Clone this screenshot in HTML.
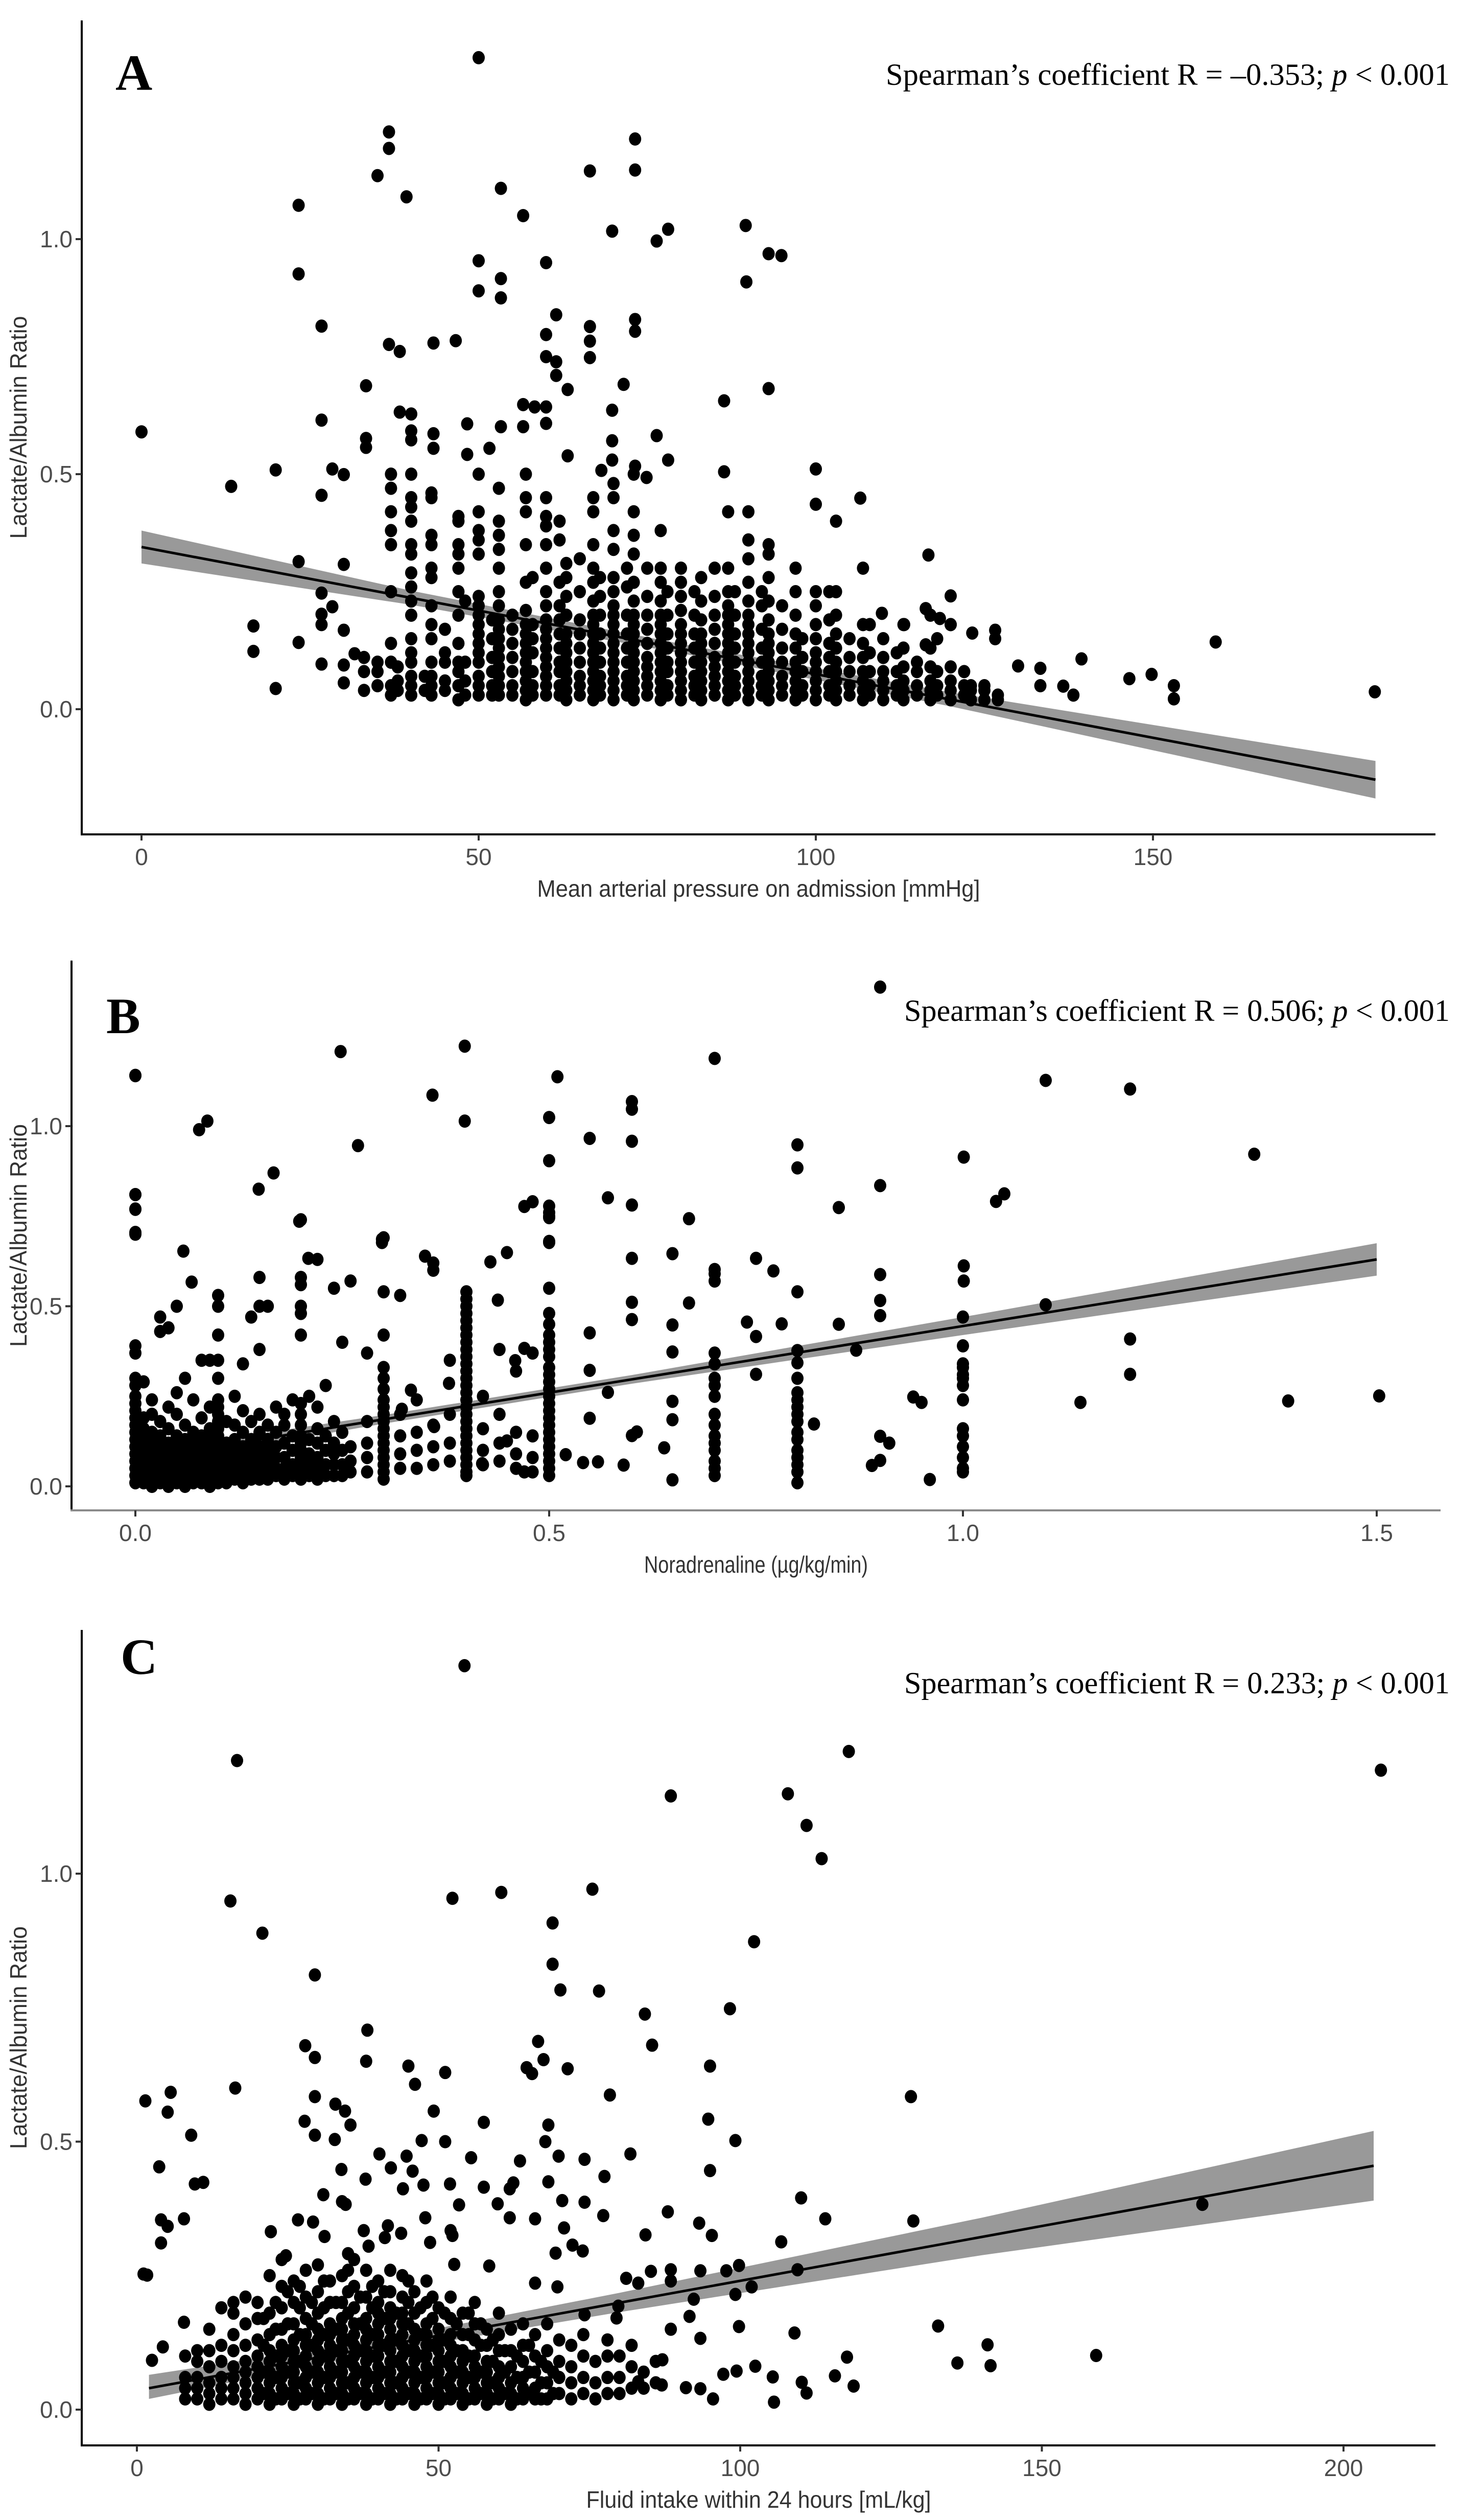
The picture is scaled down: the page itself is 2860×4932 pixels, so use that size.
<!DOCTYPE html>
<html><head><meta charset="utf-8"><title>Lactate/Albumin Ratio correlations</title>
<style>
html,body{margin:0;padding:0;background:#fff;}
svg{display:block;}
.tick{font-family:"Liberation Sans",sans-serif;font-size:46px;fill:#4d4d4d;}
.atitle{font-family:"Liberation Sans",sans-serif;font-size:46px;fill:#333;}
.spear{font-family:"Liberation Serif",serif;font-size:60px;fill:#000;}
.plab{font-family:"Liberation Serif",serif;font-size:100px;font-weight:bold;fill:#000;}
</style></head>
<body>
<svg id="fig" width="2860" height="4932" viewBox="0 0 2860 4932" xmlns="http://www.w3.org/2000/svg"></svg>
<script>
// ===== Panel A data: MAP vs LAR =====
const xA = [50,36.7,36.7,35,39.3,23.3,23.3,26.7,73.2,73.2,66.5,53.3,56.6,69.8,78.1,76.4,89.6,93,94.9,89.7,50,50,53.3,53.3,60,61.5,73.2,73.2,66.5,66.5,66.5,60,60,61.5,61.5,63.2,36.7,38.3,43.3,46.6,33.3,71.5,93,86.4,0,13.3,19.9,26.7,26.7,28.3,30,33.3,33.3,38.3,40,40,40,43.3,43.3,48.3,48.3,51.6,53.3,56.6,56.6,58.3,60,60,63.2,68.2,69.8,69.8,69.8,76.4,78.1,73.2,74.9,86.4,100,100,106.6,116.7,120,130,133.3,133.3,136.7,138.2,139.4,146.5,149.8,153.1,153.1,159.3,182.9,126.6,126.6,123.2,120,118.4,116.3,113.1,116.3,109.8,19.9,16.6,16.6,23.3,23.3,26.7,26.7,26.7,26.7,28.3,30,30,30,30,31.6];
const yA = [1.386,1.228,1.193,1.135,1.09,1.072,0.926,0.815,1.213,1.147,1.145,1.108,1.05,1.017,1.021,0.996,1.029,0.969,0.965,0.909,0.954,0.89,0.916,0.875,0.95,0.839,0.829,0.804,0.814,0.783,0.748,0.797,0.75,0.739,0.71,0.68,0.776,0.761,0.779,0.784,0.688,0.691,0.682,0.656,0.59,0.474,0.509,0.615,0.455,0.511,0.499,0.576,0.557,0.632,0.628,0.592,0.573,0.586,0.555,0.607,0.542,0.555,0.601,0.648,0.601,0.643,0.643,0.608,0.539,0.508,0.636,0.571,0.53,0.582,0.53,0.517,0.493,0.505,0.511,0.436,0.449,0.328,0.241,0.092,0.087,0.05,0.049,0.03,0.107,0.065,0.074,0.05,0.022,0.143,0.037,0.168,0.15,0.162,0.18,0.193,0.214,0.18,0.137,0.204,0.044,0.177,0.123,0.142,0.314,0.247,0.202,0.18,0.096,0.218,0.308,0.168,0.094,0.056,0.118];
const colXA = [33,35,37,38,40,42,43,45,47,48,50,52,53,55,57,58,60,62,63,65,67,68,70,72,73,75,77,78,80,82,83,85,87,88,90,92,93,95,97,98,100,102,103,105,107,108,110,112,113,115,117,118,120,122,123,125,127];
const colYA = [
[0.04,0.08,0.11],[0.05,0.08,0.1],[0.03,0.05,0.1,0.14,0.25,0.35,0.38,0.42,0.47,0.5],[0.04,0.06,0.09],[0.03,0.05,0.07,0.1,0.12,0.15,0.2,0.23,0.26,0.29,0.33,0.35,0.4,0.43,0.45,0.5],[0.04,0.07],[0.03,0.05,0.07,0.1,0.15,0.18,0.22,0.28,0.3,0.35,0.37,0.45,0.46],[0.04,0.06,0.1,0.12,0.17],[0.02,0.05,0.08,0.1,0.14,0.2,0.25,0.3,0.33,0.35,0.4,0.41],[0.03,0.06,0.1,0.23],
[0.03,0.05,0.07,0.1,0.12,0.14,0.16,0.18,0.2,0.22,0.24,0.33,0.36,0.38,0.42,0.5],[0.03,0.05,0.08,0.11,0.15,0.19],[0.03,0.05,0.07,0.09,0.11,0.13,0.15,0.17,0.19,0.22,0.25,0.3,0.34,0.37,0.4,0.47],[0.03,0.05,0.08,0.11,0.14,0.17,0.2],[0.02,0.04,0.06,0.08,0.1,0.12,0.14,0.16,0.18,0.21,0.27,0.35,0.42,0.45,0.5],[0.03,0.05,0.08,0.12,0.15,0.18,0.28],[0.03,0.05,0.07,0.09,0.11,0.13,0.15,0.17,0.19,0.22,0.25,0.3,0.35,0.39,0.41,0.45],[0.03,0.05,0.08,0.1,0.13,0.16,0.19,0.22,0.27,0.36,0.4],[0.02,0.04,0.06,0.08,0.1,0.12,0.14,0.16,0.2,0.24,0.28,0.31],[0.03,0.05,0.07,0.1,0.13,0.16,0.19,0.25,0.32],
[0.02,0.04,0.06,0.08,0.1,0.12,0.14,0.16,0.18,0.2,0.23,0.27,0.3,0.35,0.42,0.45],[0.03,0.05,0.07,0.1,0.13,0.16,0.2,0.24,0.28],[0.02,0.04,0.06,0.08,0.1,0.12,0.14,0.16,0.18,0.2,0.22,0.25,0.28,0.34,0.38,0.45,0.48],[0.03,0.05,0.07,0.1,0.13,0.16,0.2,0.26,0.3],[0.02,0.04,0.06,0.08,0.1,0.12,0.14,0.16,0.18,0.2,0.23,0.27,0.33,0.37,0.42,0.5],[0.03,0.05,0.07,0.09,0.11,0.14,0.17,0.2,0.24,0.3],[0.02,0.04,0.06,0.08,0.1,0.12,0.14,0.16,0.18,0.2,0.23,0.27,0.3,0.38],[0.03,0.05,0.08,0.1,0.13,0.16,0.2,0.25],[0.02,0.04,0.06,0.08,0.1,0.12,0.14,0.16,0.18,0.21,0.24,0.27,0.3],[0.03,0.05,0.07,0.1,0.13,0.16,0.2,0.25],
[0.02,0.04,0.06,0.08,0.1,0.12,0.14,0.16,0.19,0.23,0.28],[0.03,0.05,0.07,0.09,0.11,0.14,0.17,0.2,0.24,0.3],[0.02,0.04,0.06,0.08,0.1,0.12,0.14,0.16,0.18,0.2,0.22,0.25,0.3,0.42],[0.03,0.05,0.07,0.1,0.13,0.16,0.2,0.25],[0.02,0.04,0.06,0.08,0.1,0.12,0.14,0.16,0.18,0.2,0.23,0.27,0.32,0.36,0.42],[0.03,0.05,0.07,0.1,0.13,0.17,0.22,0.25],[0.02,0.04,0.06,0.08,0.1,0.12,0.14,0.16,0.19,0.23,0.28,0.33,0.35],[0.03,0.05,0.07,0.1,0.13,0.17,0.22],[0.02,0.04,0.06,0.08,0.1,0.13,0.16,0.2,0.25,0.3],[0.03,0.05,0.08,0.11,0.15],
[0.02,0.04,0.06,0.08,0.1,0.12,0.15,0.18,0.22,0.25],[0.03,0.05,0.08,0.11,0.14,0.19,0.25],[0.02,0.04,0.06,0.08,0.1,0.13,0.16,0.2,0.25,0.4],[0.03,0.05,0.08,0.11,0.15],[0.02,0.04,0.06,0.08,0.11,0.14,0.18,0.3],[0.03,0.05,0.08,0.12,0.18],[0.02,0.04,0.06,0.08,0.11,0.15],[0.03,0.05,0.08,0.12],[0.02,0.04,0.06,0.09,0.13,0.18],[0.03,0.05,0.08,0.1],[0.02,0.04,0.06,0.09,0.13,0.2],[0.03,0.05,0.08,0.15],[0.02,0.04,0.06,0.09,0.18],[0.03,0.05,0.08],[0.02,0.04,0.05],[0.02,0.04,0.05],[0.02,0.03]
];
const fitXA = [0,183];
const fitYA = [0.345,-0.15];
const bandXA = [0,40,80,120,183];
const bandLoA = [0.31,0.222,0.119,0.006,-0.19];
const bandHiA = [0.38,0.252,0.139,0.036,-0.11];
const xTicksA = [0,50,100,150];
const xTickLabA = ["0","50","100","150"];
const yTicksA = [0,0.5,1.0];
const yTickLabA = ["0.0","0.5","1.0"];

// ===== Panel B data: Noradrenaline vs LAR =====
const xB = [0.9,0.398,0.248,0,0.51,0.7,0.359,0.6,0.6,0.398,0.5,0.087,0.077,0.269,0.549,0.6,0.5,0.8,0.8,1.1,1.202,1.001,1.352,0.9,1.05,1.04,0.85,0.669,0.167,0.149,0,0,0,0.198,0.058,0.068,0.298,0.298,0.209,0.35,0.449,0.429,0.47,0.5,0.5,0.5,0.571,0.6,0.6,0.649,0.7,0.7,0.75,0.771,0.9,1.001,1.001,1.1,1.202,1.202,1.142,1.393,1.503,0.94,0.95,0.96,0.649,0.8,0.9,0.911,0.9,0.89,0.82,0.871,0.85,0.781,0.739,0.75,0.75,0.8,0.8,0.8,0.9,0.9,0.669,0.649,0.649,0.649,0.649,0.639,0.6,0.6,0.549,0.549,0.571,0.549,0.52,0.541,0.559,0.59,0.6,0.606,0.449,0.419,0.47,0.47,0.459,0.438,0.379,0.333,0.322,0.361];
const yB = [1.386,1.222,1.207,1.141,1.137,1.188,1.086,1.068,1.047,1.014,1.024,1.014,0.99,0.946,0.966,0.958,0.904,0.948,0.884,1.127,1.103,0.914,0.922,0.835,0.812,0.791,0.774,0.743,0.87,0.825,0.81,0.769,0.705,0.736,0.653,0.567,0.686,0.677,0.633,0.639,0.649,0.623,0.777,0.778,0.746,0.677,0.801,0.781,0.633,0.646,0.602,0.57,0.633,0.598,0.588,0.612,0.57,0.504,0.409,0.311,0.233,0.237,0.251,0.248,0.233,0.019,0.018,0.01,0.139,0.12,0.072,0.058,0.173,0.378,0.45,0.451,0.456,0.416,0.311,0.377,0.343,0.54,0.516,0.474,0.509,0.448,0.373,0.236,0.185,0.107,0.511,0.463,0.426,0.322,0.261,0.189,0.088,0.066,0.068,0.059,0.141,0.151,0.126,0.063,0.04,0.383,0.349,0.517,0.286,0.267,0.214,0.166];
const colXB = [0,0.01,0.02,0.03,0.04,0.05,0.06,0.07,0.08,0.09,0.1,0.11,0.12,0.13,0.14,0.15,0.16,0.17,0.18,0.19,0.2,0.21,0.22,0.23,0.24,0.25,0.26,0.28,0.3,0.32,0.34,0.36,0.38,0.4,0.42,0.44,0.46,0.48,0.5,0.7,0.8,1.0];
const colYB = [
[0.01,0.03,0.05,0.07,0.09,0.11,0.13,0.15,0.17,0.19,0.21,0.23,0.25,0.28,0.3,0.37,0.39,0.7,0.77,0.81,1.14],
[0.01,0.03,0.05,0.07,0.09,0.11,0.13,0.16,0.19,0.29],[0.0,0.02,0.04,0.06,0.08,0.1,0.12,0.15,0.2,0.24],[0.01,0.03,0.05,0.07,0.09,0.11,0.14,0.18,0.43,0.47],[0.0,0.02,0.04,0.06,0.08,0.1,0.12,0.16,0.22,0.44],[0.01,0.03,0.05,0.07,0.09,0.11,0.14,0.2,0.26,0.5],[0.0,0.02,0.04,0.06,0.08,0.1,0.13,0.17,0.3],[0.01,0.03,0.05,0.07,0.09,0.12,0.15,0.24],[0.01,0.03,0.05,0.07,0.09,0.11,0.14,0.19,0.35],[0.0,0.02,0.04,0.06,0.08,0.1,0.13,0.16,0.22,0.35],
[0.01,0.02,0.04,0.06,0.08,0.1,0.12,0.14,0.16,0.18,0.2,0.22,0.24,0.3,0.35,0.42,0.5,0.53],[0.01,0.03,0.05,0.07,0.09,0.12,0.18],[0.02,0.04,0.06,0.08,0.1,0.13,0.17,0.25],[0.01,0.03,0.05,0.07,0.09,0.11,0.15,0.21,0.34],[0.02,0.04,0.06,0.08,0.1,0.13,0.18,0.47],[0.02,0.04,0.06,0.08,0.11,0.15,0.2,0.38,0.5,0.58],[0.02,0.04,0.07,0.1,0.13,0.17,0.5],[0.03,0.05,0.08,0.11,0.15,0.22],[0.02,0.05,0.08,0.12,0.17,0.2],[0.03,0.06,0.1,0.14,0.24],
[0.02,0.04,0.06,0.08,0.1,0.12,0.14,0.17,0.2,0.23,0.42,0.48,0.5,0.56,0.58,0.74],[0.03,0.06,0.09,0.13,0.25],[0.02,0.05,0.08,0.12,0.16,0.22,0.63],[0.03,0.06,0.1,0.14,0.28],[0.03,0.06,0.09,0.12,0.18,0.55],[0.03,0.06,0.1,0.15,0.4],[0.04,0.07,0.11,0.57],[0.04,0.08,0.12,0.18,0.37],[0.02,0.04,0.06,0.08,0.1,0.12,0.14,0.16,0.18,0.2,0.22,0.24,0.27,0.3,0.33,0.42,0.54,0.69],[0.05,0.09,0.14,0.2,0.53],[0.05,0.1,0.15,0.24],[0.06,0.11,0.17,0.6,0.62],[0.07,0.12,0.2,0.35],
[0.03,0.04,0.06,0.08,0.1,0.12,0.14,0.16,0.18,0.2,0.22,0.24,0.26,0.28,0.3,0.32,0.34,0.36,0.38,0.4,0.42,0.44,0.46,0.48,0.5,0.52,0.54],[0.06,0.1,0.16,0.25],[0.07,0.12,0.2,0.38],[0.05,0.09,0.15,0.32],[0.04,0.08,0.14,0.37,0.79],
[0.03,0.05,0.07,0.09,0.11,0.13,0.15,0.17,0.19,0.21,0.23,0.25,0.27,0.29,0.31,0.33,0.36,0.38,0.4,0.42,0.45,0.48,0.55,0.68,0.75,0.76],
[0.03,0.05,0.07,0.1,0.12,0.14,0.17,0.2,0.25,0.28,0.3,0.34,0.37,0.59],
[0.04,0.06,0.08,0.1,0.13,0.15,0.18,0.2,0.22,0.24,0.26,0.3],
[0.04,0.05,0.08,0.11,0.14,0.16,0.24,0.28,0.3,0.31,0.33,0.34,0.39,0.47]
];
const fitXB = [0,1.5];
const fitYB = [0.075,0.63];
const bandXB = [0,0.3,0.6,1.0,1.5];
const bandLoB = [0.055,0.174,0.285,0.42,0.585];
const bandHiB = [0.095,0.198,0.309,0.47,0.675];
const xTicksB = [0,0.5,1.0,1.5];
const xTickLabB = ["0.0","0.5","1.0","1.5"];
const yTicksB = [0,0.5,1.0];
const yTickLabB = ["0.0","0.5","1.0"];

// ===== Panel C data: Fluid intake vs LAR =====
const xC = [54.3,16.6,118,206.2,88.5,107.9,111,113.5,15.5,52.3,60.4,75.5,20.8,68.9,102.3,68.9,29.5,70.2,76.6,98.3,84.2,38.2,85.4,66.5,27.9,29.5,67.4,38,45,95,64.6,65.5,71.4,51.1,46.1,16.3,5.6,1.4,78.4,128.3,5.1,29.5,32.9,34.5,35.4,49.2,27.8,57.5,68.2,94.7,9,29.5,32.8,47.2,51.1,67.7,99.2,40.2,44.7,55.4,69.9,74.2,81.8,63.5,3.7,33.9,42.1,45.7,95,77.5,9.6,11,37.9,51.9,57.5,61.8,44.1,47.5,62.4,68.2,110.1,176.6,34,30.9,53.4,59.8,70.5,74.2,34.6,7.8,4,5.1,26.7,29.2,41.6,47.8,61.8,66,77.3,88,93.2,114.1,128.7,4,22.2,31.1,37.6,41.1,43.8,52,70.8,84.3,95.3,106.8,52.3,72.2,73.9,69.4,24.7,35,38.4,48.6,52.6,58.4,66,69.7,85.2,88.5,93.4,97.7,99.8,109.5,81.1,83.1,88.5,101.9,99.2,92.3,79.8,74.2,79.5,91.6,99.8,88.5,93.4,109,132.8,141,141.5,136,159,117.7,115.7,102.5,99.4,97.2,118.8,105.4,110.2,111,105.6,95.5,93.4,91,87,83.1,87.1,1.1,1.7,7.8,2.5,4.3];
const yC = [1.388,1.211,1.228,1.193,1.145,1.149,1.09,1.028,0.949,0.954,0.965,0.971,0.889,0.908,0.873,0.831,0.811,0.783,0.781,0.748,0.738,0.708,0.68,0.687,0.679,0.657,0.653,0.65,0.641,0.641,0.638,0.627,0.636,0.629,0.607,0.6,0.592,0.576,0.587,0.584,0.555,0.584,0.57,0.557,0.531,0.557,0.538,0.536,0.531,0.542,0.512,0.512,0.504,0.502,0.5,0.5,0.502,0.477,0.473,0.47,0.473,0.467,0.477,0.464,0.453,0.448,0.451,0.445,0.446,0.435,0.421,0.424,0.43,0.421,0.415,0.412,0.412,0.419,0.423,0.425,0.395,0.383,0.388,0.401,0.382,0.384,0.39,0.387,0.383,0.356,0.354,0.342,0.354,0.35,0.343,0.358,0.358,0.356,0.362,0.369,0.348,0.356,0.352,0.311,0.332,0.323,0.334,0.321,0.329,0.334,0.339,0.326,0.325,0.313,0.325,0.307,0.296,0.292,0.287,0.291,0.305,0.312,0.271,0.268,0.236,0.229,0.258,0.261,0.259,0.259,0.269,0.261,0.245,0.236,0.24,0.229,0.215,0.206,0.193,0.177,0.171,0.174,0.155,0.15,0.133,0.143,0.156,0.121,0.082,0.087,0.101,0.098,0.063,0.081,0.072,0.066,0.044,0.061,0.051,0.031,0.014,0.02,0.039,0.041,0.046,0.052,0.093,0.253,0.251,0.163,0.092,0.117];
const colXC = [8,10,12,14,16,18,20,22,24,26,28,30,32,34,36,38,40,42,44,46,48,50,52,54,56,58,60,62,64,66,68,70,72,74,76,78,80,82,84,86,21,23,25,27,29,31,33,35,37,39,41,43,45,47,49,51,53,55,57,59,61,63,65,67,69];
const colYC = [
[0.02,0.04,0.06,0.1],[0.02,0.04,0.06,0.09,0.11],[0.01,0.03,0.05,0.08,0.11,0.15],[0.02,0.04,0.06,0.09,0.12,0.19],[0.02,0.04,0.06,0.08,0.11,0.14,0.18,0.2],[0.01,0.03,0.05,0.07,0.09,0.12,0.16,0.21],[0.02,0.04,0.06,0.08,0.1,0.13,0.17,0.2],[0.01,0.03,0.05,0.07,0.09,0.11,0.14,0.18,0.25],[0.02,0.04,0.06,0.08,0.1,0.12,0.15,0.19,0.23,0.28],[0.01,0.03,0.05,0.07,0.09,0.11,0.13,0.16,0.2,0.24],
[0.02,0.04,0.06,0.08,0.1,0.12,0.14,0.17,0.21,0.26],[0.01,0.03,0.05,0.07,0.09,0.11,0.13,0.15,0.18,0.22,0.27],[0.02,0.04,0.06,0.08,0.1,0.12,0.14,0.16,0.2,0.24],[0.01,0.03,0.05,0.07,0.09,0.11,0.13,0.15,0.17,0.2,0.25],[0.02,0.04,0.06,0.08,0.1,0.12,0.14,0.16,0.19,0.23,0.28],[0.01,0.03,0.05,0.07,0.09,0.11,0.13,0.15,0.17,0.21,0.26],[0.02,0.04,0.06,0.08,0.1,0.12,0.14,0.16,0.18,0.2,0.24],[0.01,0.03,0.05,0.07,0.09,0.11,0.13,0.15,0.17,0.19,0.22,0.26],[0.02,0.04,0.06,0.08,0.1,0.12,0.14,0.16,0.18,0.21,0.25],[0.01,0.03,0.05,0.07,0.09,0.11,0.13,0.15,0.18,0.22],
[0.02,0.04,0.06,0.08,0.1,0.12,0.14,0.16,0.2,0.24],[0.01,0.03,0.05,0.07,0.09,0.11,0.13,0.15,0.19],[0.02,0.04,0.06,0.08,0.1,0.12,0.14,0.17,0.21],[0.01,0.03,0.05,0.07,0.09,0.11,0.14,0.18],[0.02,0.04,0.06,0.08,0.1,0.13,0.16,0.2],[0.01,0.03,0.05,0.07,0.09,0.12,0.15],[0.02,0.04,0.06,0.08,0.11,0.14,0.18],[0.01,0.03,0.05,0.08,0.11,0.15],[0.02,0.04,0.06,0.09,0.12,0.16],[0.02,0.04,0.07,0.1,0.14],
[0.02,0.05,0.08,0.11,0.16],[0.03,0.06,0.09,0.13],[0.02,0.05,0.08,0.12],[0.03,0.06,0.1,0.14],[0.02,0.05,0.09],[0.03,0.06,0.1,0.13],[0.03,0.06,0.1],[0.04,0.08,0.12],[0.04,0.07],[0.05,0.09],
[0.03,0.07,0.12,0.17],[0.02,0.06,0.1,0.15,0.2],[0.03,0.07,0.11,0.16,0.22],[0.02,0.05,0.09,0.14,0.19,0.23],[0.03,0.07,0.12,0.16,0.2],[0.02,0.06,0.1,0.14,0.19,0.24],[0.03,0.07,0.11,0.15,0.2],[0.02,0.05,0.09,0.13,0.18,0.22,0.26],[0.03,0.07,0.11,0.16,0.21],[0.02,0.06,0.1,0.14,0.19,0.23],[0.03,0.07,0.12,0.17,0.22],[0.02,0.05,0.09,0.13,0.18],[0.03,0.07,0.11,0.16,0.2,0.24],[0.02,0.06,0.1,0.14,0.19],[0.03,0.07,0.12,0.17,0.21],[0.02,0.05,0.09,0.13,0.18],[0.03,0.07,0.11,0.16],[0.02,0.06,0.1,0.14,0.18],[0.03,0.07,0.12,0.16],[0.02,0.05,0.09,0.13],[0.03,0.07,0.11],[0.02,0.06,0.1],[0.03,0.07,0.12],[0.02,0.05,0.09],[0.03,0.07]
];
const fitXC = [2,205];
const fitYC = [0.04,0.455];
const bandXC = [2,40,80,140,205];
const bandLoC = [0.02,0.106,0.182,0.288,0.39];
const bandHiC = [0.065,0.13,0.218,0.358,0.52];
const xTicksC = [0,50,100,150,200];
const xTickLabC = ["0","50","100","150","200"];
const yTicksC = [0,0.5,1.0];
const yTickLabC = ["0.0","0.5","1.0"];

// ===== rendering =====
const NS = "http://www.w3.org/2000/svg";
const svg = document.getElementById("fig");
function mk(tag, attrs, parent) {
  const e = document.createElementNS(NS, tag);
  for (const k in attrs) e.setAttribute(k, attrs[k]);
  (parent || svg).appendChild(e);
  return e;
}

function drawPanel(p) {
  const g = mk("g", {});
  
  
  const sx = v => p.x0 + (v - p.xv0) * p.xk;
  const sy = v => p.y0 - v * p.yk;

  let d = "";
  p.bandX.forEach((v, i) => { d += (i ? "L" : "M") + sx(v) + " " + sy(p.bandHi[i]); });
  for (let i = p.bandX.length - 1; i >= 0; i--) d += "L" + sx(p.bandX[i]) + " " + sy(p.bandLo[i]);
  d += "Z";
  const band = mk("path", {d: d, fill: "#999999"}, g);
  
  

  const pts = mk("g", {fill: "#000"}, g);
  
  
  const dot = (x, y) => {
    const c = mk("ellipse", {cx: sx(x), cy: sy(y), rx: 12, ry: 13}, pts);
    
    
  };
  p.xs.forEach((x, i) => dot(x, p.ys[i]));
  p.colX.forEach((x, i) => p.colY[i].forEach(y => dot(x, y)));

  const ln = mk("line", {x1: sx(p.fitX[0]), y1: sy(p.fitY[0]), x2: sx(p.fitX[1]), y2: sy(p.fitY[1]), stroke: "#000", "stroke-width": 5}, g);
  
  

  const ya = mk("line", {x1: p.axL, y1: p.axT, x2: p.axL, y2: p.axB, stroke: "#000", "stroke-width": 4}, g);
  
  
  const xa = mk("line", {x1: p.axL - 2, y1: p.axB, x2: p.axR, y2: p.axB, stroke: p.xAxisCol, "stroke-width": 4}, g);
  
  

  p.xTicks.forEach((v, i) => {
    const t = mk("line", {x1: sx(v), y1: p.axB, x2: sx(v), y2: p.axB + 12, stroke: "#333", "stroke-width": 4}, g);
    
    
    const l = mk("text", {x: sx(v), y: p.axB + 60, "text-anchor": "middle", class: "tick"}, g);
    l.textContent = p.xTickLab[i];
    
    
  });
  p.yTicks.forEach((v, i) => {
    const t = mk("line", {x1: p.axL - 12, y1: sy(v), x2: p.axL, y2: sy(v), stroke: "#333", "stroke-width": 4}, g);
    
    
    const l = mk("text", {x: p.axL - 18, y: sy(v) + 16, "text-anchor": "end", class: "tick"}, g);
    l.textContent = p.yTickLab[i];
    
    
  });

  const xt = mk("text", {x: (p.axL + p.axR) / 2, y: p.axB + 122, "text-anchor": "middle", class: "atitle", textLength: p.xTitleLen, lengthAdjust: "spacingAndGlyphs"}, g);
  xt.textContent = p.xTitle;
  
  
  const cy = (p.axT + p.axB) / 2;
  const yt = mk("text", {x: 0, y: 0, "text-anchor": "middle", class: "atitle", transform: "translate(52," + cy + ") rotate(-90)", textLength: 436, lengthAdjust: "spacingAndGlyphs"}, g);
  yt.textContent = "Lactate/Albumin Ratio";
  
  

  const pl = mk("text", {x: p.labX, y: p.labY, class: "plab"}, g);
  pl.textContent = p.id;
  
  

  const sp = mk("text", {x: 2838, y: p.spY, "text-anchor": "end", class: "spear", textLength: p.spLen, lengthAdjust: "spacingAndGlyphs"}, g);
  
  
  const t1 = mk("tspan", {}, sp); t1.textContent = "Spearman\u2019s coefficient R = " + p.rTxt + "; ";
  const t2 = mk("tspan", {"font-style": "italic"}, sp); t2.textContent = "p";
  const t3 = mk("tspan", {}, sp); t3.textContent = " < 0.001";
}

drawPanel({id: "A", xs: xA, ys: yA, colX: colXA, colY: colYA, fitX: fitXA, fitY: fitYA, bandX: bandXA, bandLo: bandLoA, bandHi: bandHiA,
  xTicks: xTicksA, xTickLab: xTickLabA, yTicks: yTicksA, yTickLab: yTickLabA,
  x0: 277, xv0: 0, xk: 13.2, y0: 1388, yk: 920, axL: 160, axR: 2810, axT: 40, axB: 1633, xAxisCol: "#000",
  xTitle: "Mean arterial pressure on admission [mmHg]", xTitleLen: 867, labX: 226, labY: 176, spY: 166, spLen: 1104, rTxt: "\u20130.353"});
drawPanel({id: "B", xs: xB, ys: yB, colX: colXB, colY: colYB, fitX: fitXB, fitY: fitYB, bandX: bandXB, bandLo: bandLoB, bandHi: bandHiB,
  xTicks: xTicksB, xTickLab: xTickLabB, yTicks: yTicksB, yTickLab: yTickLabB,
  x0: 265, xv0: 0, xk: 1620, y0: 2909, yk: 705, axL: 140, axR: 2820, axT: 1880, axB: 2956, xAxisCol: "#8a8a8a",
  xTitle: "Noradrenaline (\u00b5g/kg/min)", xTitleLen: 438, labX: 208, labY: 2022, spY: 1998, spLen: 1068, rTxt: "0.506"});
drawPanel({id: "C", xs: xC, ys: yC, colX: colXC, colY: colYC, fitX: fitXC, fitY: fitYC, bandX: bandXC, bandLo: bandLoC, bandHi: bandHiC,
  xTicks: xTicksC, xTickLab: xTickLabC, yTicks: yTicksC, yTickLab: yTickLabC,
  x0: 268, xv0: 0, xk: 11.81, y0: 4716, yk: 1049, axL: 160, axR: 2810, axT: 3190, axB: 4786, xAxisCol: "#000",
  xTitle: "Fluid intake within 24 hours [mL/kg]", xTitleLen: 675, labX: 236, labY: 3276, spY: 3314, spLen: 1068, rTxt: "0.233"});
</script>
</body></html>
